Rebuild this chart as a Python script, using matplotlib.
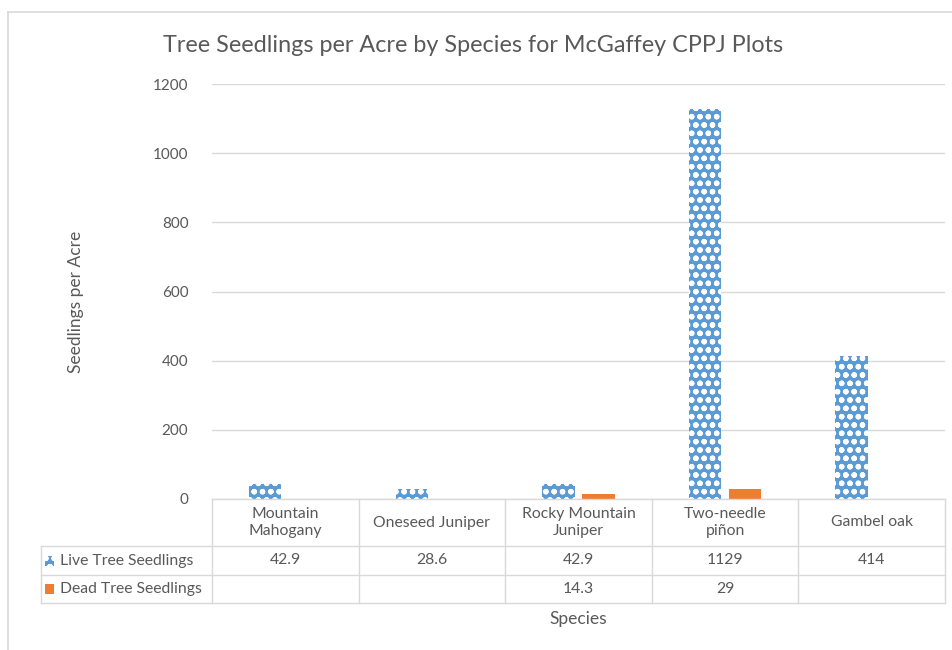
import matplotlib.pyplot as plt
from matplotlib.patches import Rectangle
from matplotlib.lines import Line2D

plt.rcParams['font.family'] = ['Lato', 'DejaVu Sans']
plt.rcParams['hatch.linewidth'] = 1.6

species = ["Mountain\nMahogany", "Oneseed Juniper", "Rocky Mountain\nJuniper",
           "Two-needle\npiñon", "Gambel oak"]
live = [42.9, 28.6, 42.9, 1129, 414]
dead = [None, None, 14.3, 29, None]
live_labels = ["42.9", "28.6", "42.9", "1129", "414"]
dead_labels = ["", "", "14.3", "29", ""]
series_names = ["Live Tree Seedlings", "Dead Tree Seedlings"]
yticks = [0, 200, 400, 600, 800, 1000, 1200]

BLUE = "#5B9BD5"
ORANGE = "#ED7D31"
TXT = "#595959"
GRID = "#D9D9D9"

W, H = 952, 650
fig = plt.figure(figsize=(W / 100, H / 100), dpi=100)

def fx(px):
    return px / W

def fy(py):
    return 1 - py / H

ax = fig.add_axes([fx(212), fy(499), fx(945) - fx(212), fy(84) - fy(499)])
ax.set_xlim(-0.5, len(species) - 0.5)
ax.set_ylim(0, 1200)

xs = list(range(len(species)))
bw = 0.22
off = 0.137
ax.bar([x - off for x in xs], live, width=bw, color=BLUE, edgecolor="white",
       hatch="oo", linewidth=0, zorder=3)
dx = [x + off for x, d in zip(xs, dead) if d is not None]
dv = [d for d in dead if d is not None]
ax.bar(dx, dv, width=bw, color=ORANGE, linewidth=0, zorder=3)

ax.set_yticks(yticks)
ax.set_yticklabels([str(t) for t in yticks], color=TXT, fontsize=11)
ax.tick_params(axis="y", length=0, pad=17)
ax.set_xticks([])
ax.grid(axis="y", color=GRID, linewidth=1, zorder=0)
for s in ax.spines.values():
    s.set_visible(False)

# chart area border
fig.add_artist(Line2D([fx(8), fx(8)], [fy(12), 0], color=GRID, lw=1.2))
fig.add_artist(Line2D([fx(8), 1], [fy(12), fy(12)], color=GRID, lw=1.2))

fig.text(fx(473), fy(45), "Tree Seedlings per Acre by Species for McGaffey CPPJ Plots",
         ha="center", va="center", fontsize=16.8, color=TXT)
fig.text(fx(76), fy(302), "Seedlings per Acre", rotation=90, ha="center",
         va="center", fontsize=12.5, color=TXT)
fig.text(fx(578), fy(619), "Species", ha="center", va="center", fontsize=12.5, color=TXT)

# data table under the plot
rows = [499, 546, 575, 603]
tl, tr = 41, 945
col_edges = [212 + (945 - 212) * i / len(species) for i in range(len(species) + 1)]
tcol = dict(color=GRID, lw=1)
fig.add_artist(Line2D([fx(212), fx(tr)], [fy(rows[0]), fy(rows[0])], **tcol))
for r in rows[1:]:
    fig.add_artist(Line2D([fx(tl), fx(tr)], [fy(r), fy(r)], **tcol))
fig.add_artist(Line2D([fx(tl), fx(tl)], [fy(rows[1]), fy(rows[3])], **tcol))
for c in col_edges:
    fig.add_artist(Line2D([fx(c), fx(c)], [fy(rows[0]), fy(rows[3])], **tcol))

for i, name in enumerate(species):
    cx = (col_edges[i] + col_edges[i + 1]) / 2
    fig.text(fx(cx), fy((rows[0] + rows[1]) / 2), name, ha="center", va="center",
             fontsize=11.3, color=TXT, linespacing=1.2)
    fig.text(fx(cx), fy((rows[1] + rows[2]) / 2), live_labels[i], ha="center",
             va="center", fontsize=11.3, color=TXT)
    fig.text(fx(cx), fy((rows[2] + rows[3]) / 2), dead_labels[i], ha="center",
             va="center", fontsize=11.3, color=TXT)

# legend keys inside table
for j, (name, col) in enumerate(zip(series_names, [BLUE, ORANGE])):
    yc = (rows[1 + j] + rows[2 + j]) / 2
    sq = Rectangle((fx(45), fy(yc + 5)), fx(9), 10 / H, transform=fig.transFigure,
                   facecolor=col, linewidth=0,
                   edgecolor="white" if j == 0 else col, hatch="oo" if j == 0 else None)
    fig.add_artist(sq)
    fig.text(fx(60), fy(yc), name, ha="left", va="center", fontsize=11.3, color=TXT)

fig.savefig("out.png", dpi=100)
